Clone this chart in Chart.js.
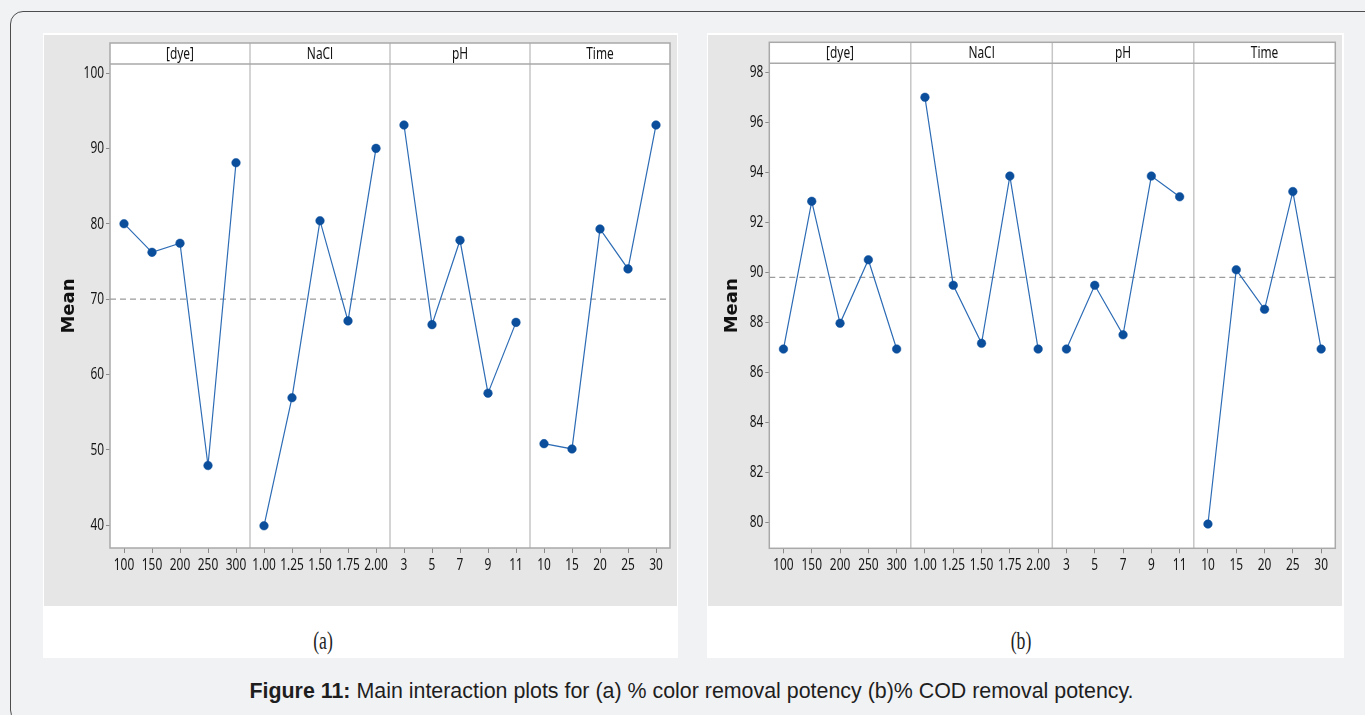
<!DOCTYPE html>
<html>
<head>
<meta charset="utf-8">
<script src="https://cdn.jsdelivr.net/npm/chart.js@4.4.1/dist/chart.umd.min.js"></script>
<style>
  html, body { margin: 0; padding: 0; }
  body {
    width: 1365px; height: 715px; overflow: hidden; position: relative;
    background: #f1f2f4; font-family: "Liberation Sans", Arial, sans-serif;
  }
  .frame {
    position: absolute; left: 10px; top: 11px; width: 1372px; height: 712px;
    border: 1px solid #4d4d4d; border-radius: 13px; box-sizing: border-box;
  }
  .fig { position: absolute; top: 33px; height: 625px; background: #ffffff; }
  .panel { position: absolute; left: 1px; top: 2px; height: 571px; background: #e6e6e6; }
  .panel canvas { display: block; }
  .sub {
    position: absolute; top: 593px; width: 100px; text-align: center;
    font-family: "Liberation Serif", "Times New Roman", serif; font-size: 26px; line-height: 30px;
    color: #222; transform: scaleX(0.68);
  }
  .caption {
    position: absolute; left: 0; width: 1383px; top: 679px; text-align: center;
    font-size: 21.4px; line-height: 24px; color: #1e1e1e;
  }
</style>
</head>
<body>
<div class="frame"></div>

<div class="fig" style="left:43px;width:635px;">
  <div class="panel" style="width:633px;"><canvas id="chartA" width="633" height="571"></canvas></div>
  <div class="sub" style="left:230px;">(a)</div>
</div>

<div class="fig" style="left:707px;width:637px;">
  <div class="panel" style="width:634px;"><canvas id="chartB" width="634" height="571"></canvas></div>
  <div class="sub" style="left:264px;">(b)</div>
</div>

<div class="caption"><b>Figure 11:</b> Main interaction plots for (a) % color removal potency (b)% COD removal potency.</div>

<script>
// Factors and their levels
const factors = ['[dye]', 'NaCl', 'pH', 'Time'];
const dyeLevels = ['100', '150', '200', '250', '300'];
const naclLevels = ['1.00', '1.25', '1.50', '1.75', '2.00'];
const phLevels = ['3', '5', '7', '9', '11'];
const timeLevels = ['10', '15', '20', '25', '30'];

// (a) % colour removal – mean response per level
const colorDye = [80.0, 76.2, 77.4, 47.9, 88.1];
const colorNaCl = [39.9, 56.9, 80.4, 67.1, 90.0];
const colorPH = [93.1, 66.6, 77.8, 57.5, 66.9];
const colorTime = [50.8, 50.1, 79.3, 74.0, 93.1];
const colorMean = 70.0;
const colorTicks = [40, 50, 60, 70, 80, 90, 100];
const colorRange = [36.95, 101.2];

// (b) % COD removal – mean response per level
const codDye = [86.93, 92.84, 87.96, 90.5, 86.93];
const codNaCl = [97.0, 89.48, 87.16, 93.85, 86.93];
const codPH = [86.93, 89.48, 87.5, 93.85, 93.02];
const codTime = [79.93, 90.1, 88.52, 93.23, 86.93];
const codMean = 89.8;
const codTicks = [80, 82, 84, 86, 88, 90, 92, 94, 96, 98];
const codRange = [78.96, 98.36];

const levelSets = [dyeLevels, naclLevels, phLevels, timeLevels];
const NARROW_FAMILY = 'Noto Sans';
const NARROW = 0.7;
const tickFont = { family: '"Noto Sans", sans-serif', size: 17 };
const LINE = '#2d6cb5';
const DOT = '#0b4e9c';

// Each factor occupies a block of width 5 on one shared linear x scale
const blockSize = 5;
const levelPositions = [];
const levelLabels = [];
levelSets.forEach((lv, p) => lv.forEach((l, i) => {
  levelPositions.push(p * blockSize + i + 0.5);
  levelLabels.push(l);
}));
const headerPositions = factors.map((f, p) => p * blockSize + blockSize / 2);

// Tick and header labels are set in a horizontally condensed face
const condensedText = {
  id: 'condensedText',
  beforeInit(chart) {
    const ctx = chart.ctx;
    const base = ctx.fillText;
    ctx.fillText = function (text, x, y, maxWidth) {
      if (!this.font.includes(NARROW_FAMILY)) {
        return maxWidth === undefined ? base.call(this, text, x, y) : base.call(this, text, x, y, maxWidth);
      }
      this.save();
      this.translate(x, y);
      this.scale(NARROW, 1);
      base.call(this, text, 0, 0);
      this.restore();
    };
  }
};

// White plot panels, header strip, outline and factor dividers
const panelFrame = {
  id: 'panelFrame',
  beforeDraw(chart) {
    const { ctx, chartArea: ca } = chart;
    const top = chart.scales.xh.top;
    ctx.save();
    ctx.fillStyle = '#ffffff';
    ctx.fillRect(ca.left, top, ca.right - ca.left, ca.bottom - top);
    ctx.restore();
  },
  beforeDatasetsDraw(chart) {
    const { ctx, chartArea: ca } = chart;
    const x = chart.scales.x;
    const top = chart.scales.xh.top;
    ctx.save();
    ctx.lineWidth = 1.5;
    ctx.strokeStyle = '#c6c6c6';
    for (let p = 1; p < factors.length; p++) {
      const px = x.getPixelForValue(p * blockSize);
      ctx.beginPath();
      ctx.moveTo(px, top);
      ctx.lineTo(px, ca.bottom);
      ctx.stroke();
    }
    ctx.strokeStyle = '#a9a9a9';
    ctx.beginPath();
    ctx.moveTo(ca.left, ca.top);
    ctx.lineTo(ca.right, ca.top);
    ctx.stroke();
    ctx.strokeRect(ca.left, top, ca.right - ca.left, ca.bottom - top);
    ctx.restore();
  }
};

function makeChart(id, series, mean, range, yTicks, geo) {
  const datasets = series.map((vals, p) => ({
    data: vals.map((v, i) => ({ x: p * blockSize + i + 0.5, y: v })),
    borderColor: LINE,
    borderWidth: 1.2,
    pointRadius: 4.3,
    pointBackgroundColor: DOT,
    pointBorderColor: DOT,
    pointBorderWidth: 0.5,
    tension: 0,
    order: 1
  }));
  datasets.push({
    data: [{ x: 0, y: mean }, { x: factors.length * blockSize, y: mean }],
    borderColor: '#9b9b9b',
    borderWidth: 1.3,
    borderDash: [6, 4],
    pointRadius: 0,
    order: 10
  });

  return new Chart(document.getElementById(id), {
    type: 'line',
    data: { datasets },
    plugins: [condensedText, panelFrame],
    options: {
      responsive: false,
      animation: false,
      events: [],
      layout: { padding: { left: 0, right: geo.right, top: geo.top, bottom: geo.bottom } },
      plugins: { legend: { display: false }, tooltip: { enabled: false } },
      scales: {
        x: {
          type: 'linear',
          position: 'bottom',
          min: 0,
          max: factors.length * blockSize,
          afterBuildTicks: s => { s.ticks = levelPositions.map(v => ({ value: v })); },
          afterFit: s => { s.height = 40; },
          border: { display: false },
          grid: { drawOnChartArea: false, drawTicks: true, tickLength: 5, color: '#8a8a8a', lineWidth: 1 },
          ticks: {
            autoSkip: false, maxRotation: 0, minRotation: 0, padding: 2,
            color: '#141414', font: tickFont,
            callback: (v, i) => levelLabels[i]
          }
        },
        xh: {
          type: 'linear',
          position: 'top',
          min: 0,
          max: factors.length * blockSize,
          afterBuildTicks: s => { s.ticks = headerPositions.map(v => ({ value: v })); },
          afterFit: s => { s.height = 21; },
          border: { display: false },
          grid: { display: false, drawTicks: false },
          ticks: {
            autoSkip: false, maxRotation: 0, minRotation: 0, padding: 0,
            color: '#141414', font: tickFont,
            callback: (v, i) => factors[i]
          }
        },
        y: {
          type: 'linear',
          min: range[0],
          max: range[1],
          afterBuildTicks: s => { s.ticks = yTicks.map(v => ({ value: v })); },
          afterFit: s => { s.width = geo.left; },
          border: { display: false },
          grid: { drawOnChartArea: false, drawTicks: true, tickLength: 4, color: '#8a8a8a', lineWidth: 1 },
          ticks: { padding: 2, color: '#141414', font: tickFont },
          title: {
            display: true,
            text: 'Mean',
            color: '#111',
            font: { family: '"DejaVu Sans", Verdana, sans-serif', size: 18, weight: 'bold' },
            padding: { top: geo.titlePad, bottom: 0 }
          }
        }
      }
    }
  });
}

makeChart('chartA', [colorDye, colorNaCl, colorPH, colorTime], colorMean, colorRange, colorTicks,
  { left: 66, right: 7, top: 8, bottom: 18, titlePad: 15 });
makeChart('chartB', [codDye, codNaCl, codPH, codTime], codMean, codRange, codTicks,
  { left: 61.3, right: 6.7, top: 7.3, bottom: 17.7, titlePad: 14 });
</script>
</body>
</html>
